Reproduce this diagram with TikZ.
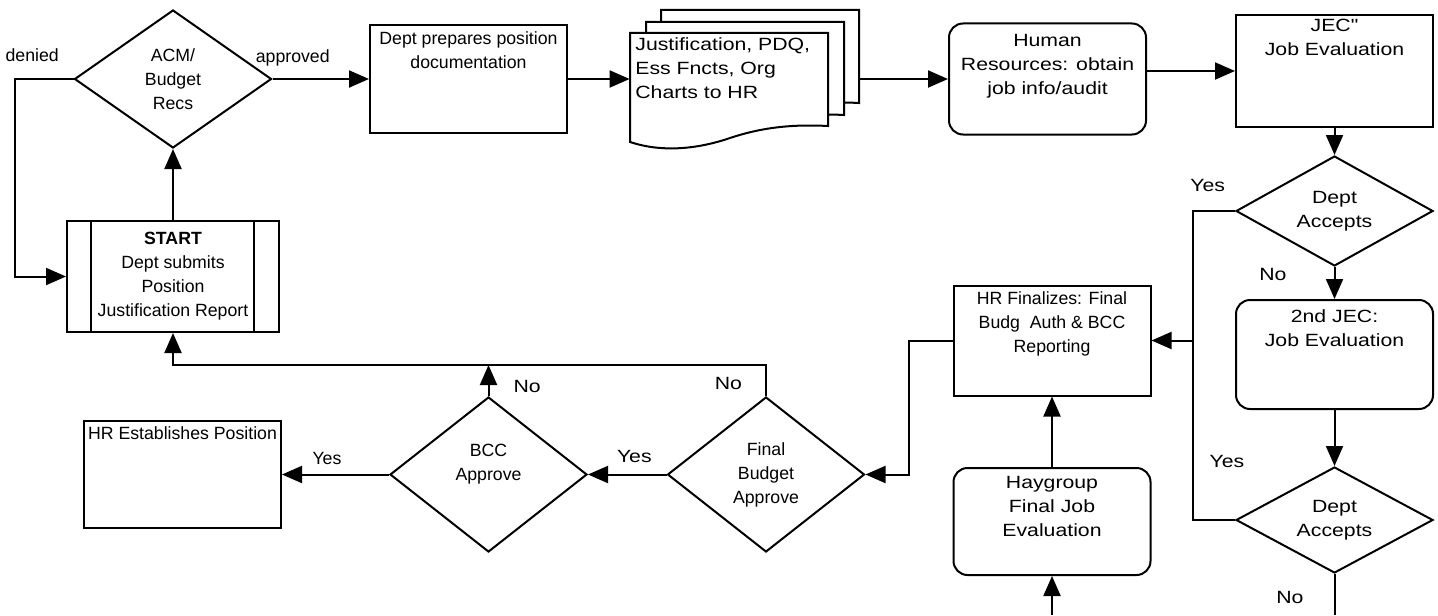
\documentclass[tikz,border=0pt]{standalone}
\usepackage{fontspec}
\setmainfont{Liberation Sans}
\newfontfamily\widefont[FakeStretch=1.2]{Liberation Sans}
\usetikzlibrary{arrows.meta,positioning,shapes.geometric}

\newcommand\plaintext{\fontsize{8.85pt}{12pt}\selectfont}
\newcommand\widetext{\widefont\fontsize{8.85pt}{12pt}\selectfont}

\tikzset{
  box/.style={draw, line width=1pt, minimum width=98.5pt, minimum height=55pt, inner sep=0pt},
  roundbox/.style={box, rounded corners=7pt},
  decision/.style={draw, line width=1pt, diamond, aspect=1.4, minimum width=98.5pt, inner sep=0pt, align=center},
  boxtext/.style={inner sep=0pt, align=center, font=\plaintext},
  lbl/.style={inner sep=0pt, font=\plaintext},
  link/.style={line width=1pt},
  arr/.style={link, -{Triangle[length=10pt,width=8.5pt]}},
}

\begin{document}
\begin{tikzpicture}[x=0.5pt,y=-0.5pt]
\useasboundingbox (0,0) rectangle (1438,615);

% request and documents
\node [decision, minimum height=69pt, font=\plaintext] (acm) at (173,79) {ACM/\\Budget\\Recs};
\node [box, minimum width=106pt, minimum height=55.5pt, align=center, font=\plaintext] (start) at (173,276.5)
  {\textbf{START}\\Dept submits\\Position\\Justification Report};
\draw [link] ([xshift=12.5pt]start.north west) -- ([xshift=12.5pt]start.south west);
\draw [link] ([xshift=-13pt]start.north east) -- ([xshift=-13pt]start.south east);

\node [box, minimum height=53.5pt] (prep) at (468.5,79) {};
\node [boxtext, below=3.5pt of prep.north] (prep-txt) {Dept prepares position\\documentation};

\foreach \dx/\dy in {31/-23,16/-11,0/0}
  \draw [link, fill=white, shift={(\dx,\dy)}] (630,33) -- (828,33) -- (828,126)
    .. controls (790,124) and (760,128) .. (730,138)
    .. controls (695,150) and (660,152) .. (630,142) -- cycle;
\node [inner sep=0pt, minimum width=114.5pt] (docs) at (744.5,79) {};
\node [boxtext, align=left, font=\widetext, anchor=north west] (docs-txt) at (635,37)
  {Justification, PDQ,\\Ess Fncts, Org\\Charts to HR};

\node [roundbox, minimum height=55.5pt] (hr) at (1047.5,79) {};
\node [boxtext, font=\widetext, below=5.5pt of hr.north] (hr-txt) {Human\\Resources: obtain\\job info/audit};

% job evaluation
\node [box, minimum height=56pt] (jec) at (1334.5,71) {};
\node [boxtext, font=\widetext, below=2.5pt of jec.north] (jec-txt) {JEC"\\Job Evaluation};
\node [decision, minimum height=55pt, font=\widetext] (acc1) at (1334.5,211) {Dept\\Accepts};
\node [roundbox, minimum height=54.5pt] (jec2) at (1334.5,354.5) {};
\node [boxtext, font=\widetext, below=5pt of jec2.north] (jec2-txt) {2nd JEC:\\Job Evaluation};
\node [decision, minimum height=53pt, font=\widetext] (acc2) at (1334.5,520) {Dept\\Accepts};

\node [box] (fin) at (1052,340.5) {};
\node [boxtext, below=3.5pt of fin.north] (fin-txt) {HR Finalizes: Final\\Budg\ \ Auth \& BCC\\Reporting};
\node [roundbox, minimum height=53.5pt] (hay) at (1052,521.5) {};
\node [boxtext, font=\widetext, below=4.5pt of hay.north] (hay-txt) {Haygroup\\Final Job\\Evaluation};

% approval
\node [decision, minimum height=77.5pt, font=\plaintext] (budget) at (766,474.5) {Final\\Budget\\Approve};
\node [decision, minimum height=77.5pt, font=\plaintext] (bcc) at (488.5,474.5) {BCC\\Approve\\\mbox{}};
\node [box, minimum height=53.5pt] (est) at (182.5,474.5) {};
\node [boxtext, below=3pt of est.north] (est-txt) {HR Establishes Position};

\coordinate (join) at (1193,340.5);
\coordinate (back) at (172,365);
\coordinate (bottom) at (0,615);

\draw [arr] (acm.west) -- node [lbl, pos=0.7, above=8pt] (l-denied) {denied} ++(-59,0) |- (start.west);
\draw [arr] (start.north) -- (acm.south);
\draw [arr] (acm.east) -- node [lbl, pos=0.21, above=6pt] (l-approved) {approved} (prep.west);
\draw [arr] (prep.east) -- (docs.west);
\draw [arr] (docs.east) -- (hr.west);
\draw [arr] (hr.east |- jec.west) -- (jec.west);
\draw [arr] (jec.south) -- (acc1.north);
\draw [arr] (acc1.south) -- node [lbl, font=\widetext, pos=0.24, left=23.5pt] (l-no1) {No} (jec2.north);
\draw [arr] (acc1.west) -- node [lbl, font=\widetext, pos=0.65, above=9pt] (l-yes1) {Yes} (acc1.west -| join) -- (join) -- (fin.east);
\draw [link] (acc2.west) node [lbl, font=\widetext, xshift=-4pt, yshift=29.5pt] (l-yes4) {Yes} -| (join);
\draw [arr] (jec2.south) -- (acc2.north);
\draw [link] (acc2.south) -- node [lbl, font=\widetext, pos=0.57, left=15pt] (l-no4) {No} (acc2.south |- bottom);
\draw [arr] (hay.south |- bottom) -- (hay.south);
\draw [arr] (hay.north) -- (fin.south);
\draw [arr] (fin.west) -- ++(-44,0) |- (budget.east);
\draw [arr] (budget.west) -- node [lbl, font=\widetext, pos=0.41, above=5.5pt] (l-yes3) {Yes} (bcc.east);
\draw [arr] (budget.north) -- node [lbl, font=\widetext, pos=0.41, left=11.5pt] (l-no3) {No} (budget.north |- back) -| (start.south);
\draw [arr] (bcc.north) -- node [lbl, font=\widetext, pos=0.31, right=12pt] (l-no2) {No} (bcc.north |- back);
\draw [arr] (bcc.west) -- node [lbl, pos=0.58, above=4.5pt] (l-yes2) {Yes} (est.east);

\end{tikzpicture}
\end{document}
